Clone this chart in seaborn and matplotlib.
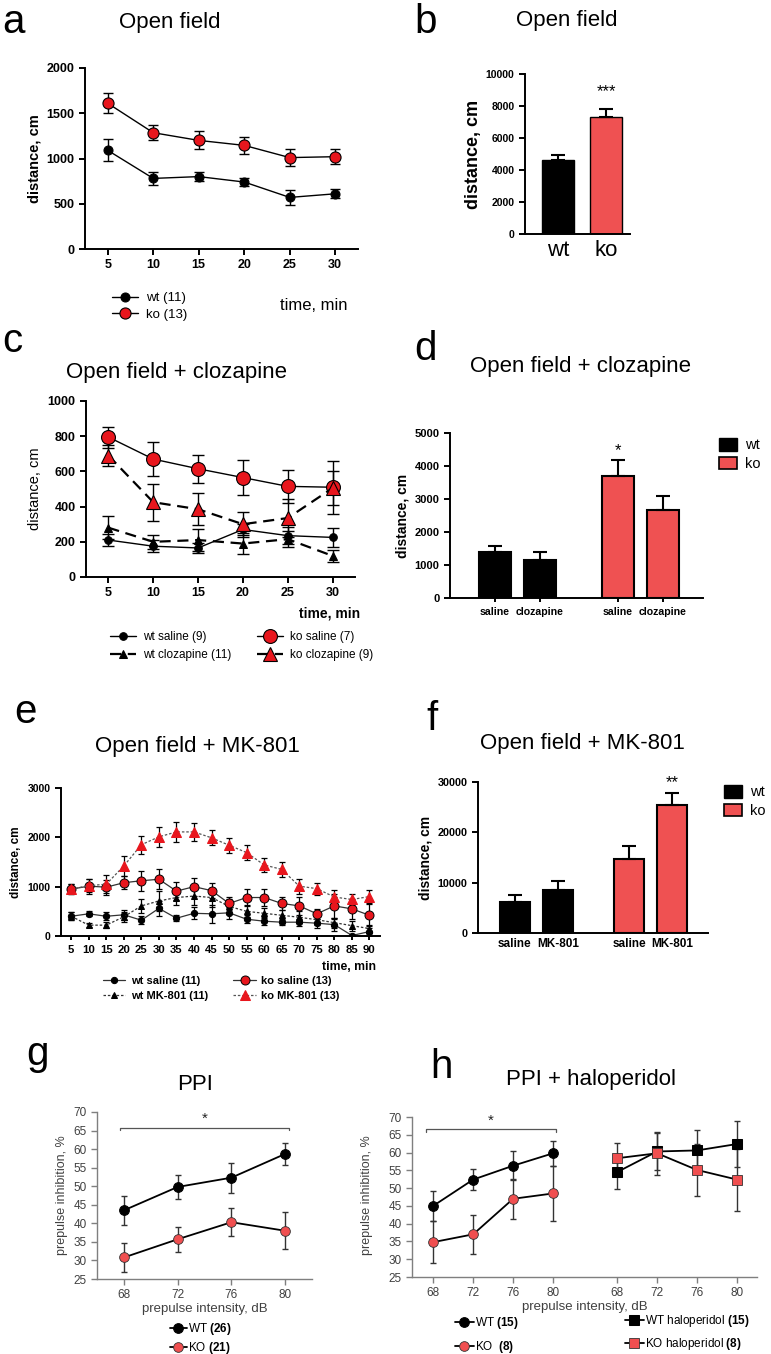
import numpy as np
import matplotlib
matplotlib.use('Agg')
import matplotlib.pyplot as plt
from matplotlib.patches import Patch
import seaborn as sns

# ---- data ----
# a: open field, distance per 5 min bin
a_time = [5, 10, 15, 20, 25, 30]
a_wt = [1090, 780, 800, 740, 570, 610]
a_wt_err = [120, 70, 50, 45, 80, 50]
a_ko = [1610, 1285, 1200, 1145, 1010, 1020]
a_ko_err = [110, 85, 100, 95, 95, 80]

# b: open field total
b_groups = ['wt', 'ko']
b_mean = [4650, 7300]
b_err = [300, 500]

# c: open field + clozapine
c_time = [5, 10, 15, 20, 25, 30]
c_wt_sal = [210, 175, 165, 270, 235, 225]
c_wt_sal_err = [35, 35, 30, 30, 50, 55]
c_wt_clz = [280, 200, 210, 190, 215, 120]
c_wt_clz_err = [65, 40, 65, 60, 45, 35]
c_ko_sal = [795, 670, 615, 565, 515, 510]
c_ko_sal_err = [60, 95, 80, 100, 95, 150]
c_ko_clz = [690, 425, 385, 300, 335, 505]
c_ko_clz_err = [60, 105, 90, 70, 110, 95]

# d: clozapine totals
d_treat = ['saline', 'clozapine', 'saline', 'clozapine']
d_geno = ['wt', 'wt', 'ko', 'ko']
d_mean = [1400, 1150, 3700, 2680]
d_err = [170, 240, 480, 420]

# e: open field + MK-801
e_time = [5, 10, 15, 20, 25, 30, 35, 40, 45, 50, 55, 60, 65, 70, 75, 80, 85, 90]
e_wt_sal = [400, 450, 400, 430, 320, 560, 360, 460, 450, 470, 340, 300, 280, 280, 260, 230, 10, 90]
e_wt_sal_err = [80, 50, 80, 100, 80, 150, 60, 120, 180, 120, 80, 80, 60, 70, 90, 120, 40, 80]
e_wt_mk = [400, 220, 220, 390, 610, 710, 780, 810, 780, 600, 500, 460, 420, 380, 330, 270, 210, 150]
e_wt_mk_err = [80, 40, 60, 100, 150, 200, 150, 180, 200, 150, 120, 100, 100, 120, 100, 100, 100, 80]
e_ko_sal = [950, 1010, 990, 1080, 1120, 1150, 910, 1000, 920, 660, 780, 780, 660, 610, 450, 610, 550, 420]
e_ko_sal_err = [100, 150, 150, 130, 200, 200, 180, 180, 150, 130, 180, 180, 130, 180, 100, 250, 200, 220]
e_ko_mk = [950, 1020, 1050, 1420, 1850, 2010, 2110, 2110, 1990, 1840, 1690, 1440, 1350, 1010, 960, 790, 740, 800]
e_ko_mk_err = [100, 130, 180, 200, 180, 200, 200, 180, 150, 150, 150, 150, 160, 150, 120, 140, 120, 130]

# f: MK-801 totals
f_treat = ['saline', 'MK-801', 'saline', 'MK-801']
f_geno = ['wt', 'wt', 'ko', 'ko']
f_mean = [6100, 8500, 14700, 25500]
f_err = [1400, 1900, 2500, 2300]

# g: PPI
g_db = [68, 72, 76, 80]
g_wt = [43.5, 49.8, 52.3, 58.7]
g_wt_err = [4.0, 3.2, 4.0, 3.0]
g_ko = [30.8, 35.7, 40.3, 38.0]
g_ko_err = [4.0, 3.3, 3.8, 5.0]

# h: PPI + haloperidol
h_db = [68, 72, 76, 80]
h_wt = [45.0, 52.4, 56.3, 59.8]
h_wt_err = [4.2, 3.0, 4.0, 3.5]
h_ko = [34.8, 37.0, 47.0, 48.5]
h_ko_err = [6.0, 5.5, 5.7, 7.8]
h_wt_hal = [54.5, 60.3, 60.6, 62.4]
h_wt_hal_err = [4.7, 5.3, 5.8, 6.6]
h_ko_hal = [58.4, 59.8, 55.1, 52.4]
h_ko_hal_err = [4.3, 6.0, 7.2, 8.7]

# ---- style ----
sns.set_style('ticks')
plt.rcParams['font.family'] = ['Liberation Sans', 'DejaVu Sans']
plt.rcParams['mathtext.fontset'] = 'custom'
plt.rcParams['mathtext.bf'] = 'Liberation Sans:bold'
plt.rcParams['mathtext.rm'] = 'Liberation Sans'
plt.rcParams['axes.linewidth'] = 1.4
plt.rcParams['xtick.major.width'] = 1.4
plt.rcParams['ytick.major.width'] = 1.4
for k in ['text.color', 'axes.labelcolor', 'axes.edgecolor', 'xtick.color', 'ytick.color']:
    plt.rcParams[k] = 'black'

RED = '#e8161d'
BAR_RED = '#ef5152'
PPI_RED = '#f04f50'
GREY = '#404040'

W, H = 771, 1354
fig = plt.figure(figsize=(W / 100, H / 100), dpi=100)


def add_ax(l, t, r, b):
    return fig.add_axes([l / W, 1 - b / H, (r - l) / W, (b - t) / H])


def ftext(x, y, s, **kw):
    fig.text(x / W, 1 - y / H, s, **kw)


def prism(ax, fs=9):
    sns.despine(ax=ax)
    ax.tick_params(direction='out', length=4, labelsize=fs)
    for lab in ax.get_xticklabels() + ax.get_yticklabels():
        lab.set_fontweight('bold')


def err(ax, x, y, e, lw=1.0, cap=3.5, color='black', upper=False):
    yerr = [np.zeros(len(e)), e] if upper else e
    ax.errorbar(x, y, yerr=yerr, fmt='none', ecolor=color, elinewidth=lw,
                capsize=cap, capthick=lw, zorder=1)


def leg(ax, x, y, ncol=1, fs=9, **kw):
    h, l = ax.get_legend_handles_labels()
    ax.legend(h, l, loc='upper left', bbox_to_anchor=(x / W, 1 - y / H),
              bbox_transform=fig.transFigure, frameon=False, ncol=ncol,
              fontsize=fs, borderpad=0, borderaxespad=0, **kw)


def bar_legend(ax, x, y):
    ax.legend(handles=[Patch(facecolor='black', edgecolor='black', label='wt'),
                       Patch(facecolor=BAR_RED, edgecolor='black', linewidth=1.2, label='ko')],
              loc='upper left', bbox_to_anchor=(x / W, 1 - y / H),
              bbox_transform=fig.transFigure, frameon=False, fontsize=10.5,
              handlelength=1.25, handleheight=0.95, handletextpad=0.55, labelspacing=0.3,
              borderpad=0, borderaxespad=0)


# panel letters and titles
for s, x, y in [('a', 2, 33), ('b', 414, 33), ('c', 2, 352), ('d', 414, 360),
                ('e', 14, 723), ('f', 426, 730), ('g', 26, 1065), ('h', 430, 1078)]:
    ftext(x, y, s, fontsize=29, va='baseline')
for s, x, y in [('Open field', 170, 28), ('Open field', 567, 26),
                ('Open field + clozapine', 177, 378), ('Open field + clozapine', 580, 372),
                ('Open field + MK-801', 197, 752), ('Open field + MK-801', 582, 749),
                ('PPI', 195, 1090), ('PPI + haloperidol', 591, 1085)]:
    ftext(x, y, s, fontsize=16, ha='center', va='baseline')

# ---------- a ----------
ax = add_ax(85, 68, 358, 249)
err(ax, a_time, a_wt, a_wt_err)
err(ax, a_time, a_ko, a_ko_err)
sns.lineplot(x=a_time, y=a_wt, ax=ax, color='black', lw=1, marker='o', ms=6.5,
             markerfacecolor='black', markeredgecolor='black', label='wt (11)')
sns.lineplot(x=a_time, y=a_ko, ax=ax, color='black', lw=1, marker='o', ms=8,
             markerfacecolor=RED, markeredgecolor='black', markeredgewidth=0.8, label='ko (13)')
ax.set_xlim(2.5, 32.5)
ax.set_ylim(0, 2000)
ax.set_xticks(a_time)
ax.set_yticks([0, 500, 1000, 1500, 2000])
ax.set_ylabel('distance, cm', fontsize=10.5, fontweight='bold')
prism(ax, 9)
leg(ax, 112, 292, fs=9.5, handlelength=2.0, handletextpad=0.6, labelspacing=0.35)
ftext(280, 310, 'time, min', fontsize=12, va='baseline')

# ---------- b ----------
ax = add_ax(525, 74, 630, 234)
sns.barplot(x=b_groups, y=b_mean, hue=b_groups, palette=['black', BAR_RED], ax=ax,
            legend=False, width=0.65, edgecolor='black', linewidth=1.0, saturation=1)
err(ax, [0, 1], b_mean, b_err, lw=1.5, cap=5, upper=True)
ax.text(1, 8400, '***', ha='center', va='bottom', fontsize=12)
ax.set_xlim(-0.69, 1.5)
ax.set_ylim(0, 10000)
ax.set_yticks([0, 2000, 4000, 6000, 8000, 10000])
ax.set_ylabel('distance, cm', fontsize=13, fontweight='bold', labelpad=3)
prism(ax, 7.5)
ax.tick_params(axis='x', length=0, labelsize=16, pad=4)
for lab in ax.get_xticklabels():
    lab.set_fontweight('normal')

# ---------- c ----------
ax = add_ax(86, 401, 355, 577)
for y, e in [(c_wt_sal, c_wt_sal_err), (c_wt_clz, c_wt_clz_err),
             (c_ko_sal, c_ko_sal_err), (c_ko_clz, c_ko_clz_err)]:
    err(ax, c_time, y, e, lw=1.0, cap=4)
sns.lineplot(x=c_time, y=c_wt_sal, ax=ax, color='black', lw=1, marker='o', ms=5.5,
             markerfacecolor='black', markeredgecolor='black', label='wt saline (9)')
sns.lineplot(x=c_time, y=c_wt_clz, ax=ax, color='black', lw=1.6, linestyle=(0, (5, 3)),
             marker='^', ms=5.5, markerfacecolor='black', markeredgecolor='black',
             label='wt clozapine (11)')
sns.lineplot(x=c_time, y=c_ko_sal, ax=ax, color='black', lw=1, marker='o', ms=10,
             markerfacecolor=RED, markeredgecolor='black', markeredgewidth=0.8,
             label='ko saline (7)')
sns.lineplot(x=c_time, y=c_ko_clz, ax=ax, color='black', lw=1.6, linestyle=(0, (5, 3)),
             marker='^', ms=10, markerfacecolor=RED, markeredgecolor='black',
             markeredgewidth=0.8, label='ko clozapine (9)')
ax.set_xlim(2.5, 32.5)
ax.set_ylim(0, 1000)
ax.set_xticks(c_time)
ax.set_yticks([0, 200, 400, 600, 800, 1000])
ax.set_ylabel('distance, cm', fontsize=10.5)
prism(ax, 9)
leg(ax, 110, 631, ncol=2, fs=8.5, handlelength=2.2, handletextpad=0.6,
    labelspacing=0.5, columnspacing=2.2)
ftext(360, 617, 'time, min', fontsize=10, fontweight='bold', ha='right', va='baseline')

# ---------- d ----------
d_pos = [0, 1, 2.73, 3.73]
ax = add_ax(450, 433, 703, 598)
sns.barplot(x=d_pos, y=d_mean, hue=d_geno, palette={'wt': 'black', 'ko': BAR_RED},
            native_scale=True, dodge=False, width=0.71, edgecolor='black',
            linewidth=1.5, legend=False, saturation=1, ax=ax)
err(ax, d_pos, d_mean, d_err, lw=1.5, cap=5, upper=True)
ax.text(d_pos[2], 4250, '*', ha='center', va='bottom', fontsize=12)
ax.set_xlim(-1.0, 4.62)
ax.set_ylim(0, 5000)
ax.set_yticks([0, 1000, 2000, 3000, 4000, 5000])
ax.set_xticks(d_pos)
ax.set_xticklabels(d_treat)
ax.set_ylabel('distance, cm', fontsize=10, fontweight='bold')
prism(ax, 8)
ax.tick_params(axis='x', labelsize=7.6, length=3)
bar_legend(ax, 719, 438)

# ---------- e ----------
ax = add_ax(61, 788, 380, 936)
for y, e in [(e_wt_sal, e_wt_sal_err), (e_wt_mk, e_wt_mk_err),
             (e_ko_sal, e_ko_sal_err), (e_ko_mk, e_ko_mk_err)]:
    err(ax, e_time, y, e, lw=0.9, cap=2.5)
sns.lineplot(x=e_time, y=e_wt_sal, ax=ax, color='#333333', lw=0.9, marker='o', ms=4.5,
             markerfacecolor='black', markeredgecolor='black', label='wt saline (11)')
sns.lineplot(x=e_time, y=e_wt_mk, ax=ax, color='#333333', lw=0.9, linestyle=(0, (2, 1.5)),
             marker='^', ms=4.5, markerfacecolor='black', markeredgecolor='black',
             label='wt MK-801 (11)')
sns.lineplot(x=e_time, y=e_ko_sal, ax=ax, color='#333333', lw=0.9, marker='o', ms=6.5,
             markerfacecolor=RED, markeredgecolor='black', markeredgewidth=0.7,
             label='ko saline (13)')
sns.lineplot(x=e_time, y=e_ko_mk, ax=ax, color='#555555', lw=0.9, linestyle=(0, (2, 1.5)),
             marker='^', ms=6.5, markerfacecolor=RED, markeredgecolor=RED,
             label='ko MK-801 (13)')
ax.set_xlim(2.1, 93)
ax.set_ylim(0, 3000)
ax.set_xticks(e_time)
ax.set_yticks([0, 1000, 2000, 3000])
ax.set_ylabel('distance, cm', fontsize=8.5, fontweight='bold')
prism(ax, 7.5)
ax.tick_params(axis='x', labelsize=8.2, length=3)
leg(ax, 103, 976, ncol=2, fs=8, prop={'weight': 'bold', 'size': 8},
    handlelength=2.0, handletextpad=0.5, labelspacing=0.45, columnspacing=2.3)
ftext(376, 970, 'time, min', fontsize=8.8, fontweight='bold', ha='right', va='baseline')

# ---------- f ----------
f_pos = [0, 1, 2.67, 3.67]
ax = add_ax(478, 782, 708, 933)
sns.barplot(x=f_pos, y=f_mean, hue=f_geno, palette={'wt': 'black', 'ko': BAR_RED},
            native_scale=True, dodge=False, width=0.70, edgecolor='black',
            linewidth=1.5, legend=False, saturation=1, ax=ax)
err(ax, f_pos, f_mean, f_err, lw=1.5, cap=5, upper=True)
ax.text(f_pos[3], 28300, '**', ha='center', va='bottom', fontsize=12, clip_on=False)
ax.set_xlim(-0.86, 4.5)
ax.set_ylim(0, 30000)
ax.set_yticks([0, 10000, 20000, 30000])
ax.set_xticks(f_pos)
ax.set_xticklabels(f_treat)
ax.set_ylabel('distance, cm', fontsize=10, fontweight='bold')
prism(ax, 7.8)
ax.tick_params(axis='x', labelsize=8.5, length=0)
bar_legend(ax, 724, 785)


# ---------- g / h (Excel style) ----------
def excel(ax):
    sns.despine(ax=ax)
    for sp in ['left', 'bottom']:
        ax.spines[sp].set_color('#7f7f7f')
        ax.spines[sp].set_linewidth(1.0)
    ax.tick_params(direction='out', length=4, width=1.0, color='#7f7f7f',
                   labelcolor=GREY, labelsize=8.5)
    ax.set_ylim(25, 70)
    ax.set_yticks(range(25, 71, 5))


def bracket(ax, x0, x1, y):
    ax.plot([x0, x0, x1, x1], [y - 0.6, y, y, y - 0.6], color='#555555', lw=0.9)
    ax.text((x0 + x1) / 2, y + 0.4, '*', ha='center', va='bottom', fontsize=11, color='#222222')


g_pos = np.arange(len(g_db))
ax = add_ax(97, 1112, 312, 1279)
err(ax, g_pos, g_wt, g_wt_err, lw=1.0, cap=2.5, color='#333333')
err(ax, g_pos, g_ko, g_ko_err, lw=1.0, cap=2.5, color='#333333')
sns.lineplot(x=g_pos, y=g_wt, ax=ax, color='black', lw=1.3, marker='o', ms=7,
             markerfacecolor='black', markeredgecolor='black', label=r'WT $\mathbf{(26)}$')
sns.lineplot(x=g_pos, y=g_ko, ax=ax, color='black', lw=1.3, marker='o', ms=7,
             markerfacecolor=PPI_RED, markeredgecolor='#333333', markeredgewidth=0.6,
             label=r'KO $\mathbf{(21)}$')
excel(ax)
ax.set_xlim(-0.5, 3.5)
ax.set_xticks(g_pos)
ax.set_xticklabels(g_db)
ax.set_ylabel('prepulse inhibition, %', fontsize=9, color=GREY)
ax.set_xlabel('prepulse intensity, dB', fontsize=9.5, color=GREY, labelpad=1)
bracket(ax, -0.07, 3.07, 65.8)
leg(ax, 170, 1321, fs=8.5, handlelength=1.4, handletextpad=0.1, labelspacing=0.25)

h_pos = np.arange(len(h_db))
h_pos_hal = h_pos + 4.6
ax = add_ax(412, 1117, 757, 1277)
for x, y, e in [(h_pos, h_wt, h_wt_err), (h_pos, h_ko, h_ko_err),
                (h_pos_hal, h_wt_hal, h_wt_hal_err), (h_pos_hal, h_ko_hal, h_ko_hal_err)]:
    err(ax, x, y, e, lw=1.0, cap=2.5, color='#333333')
sns.lineplot(x=h_pos, y=h_wt, ax=ax, color='black', lw=1.3, marker='o', ms=7,
             markerfacecolor='black', markeredgecolor='black', label=r'WT $\mathbf{(15)}$')
sns.lineplot(x=h_pos, y=h_ko, ax=ax, color='black', lw=1.3, marker='o', ms=7,
             markerfacecolor=PPI_RED, markeredgecolor='#333333', markeredgewidth=0.6,
             label=r'KO  $\mathbf{(8)}$')
sns.lineplot(x=h_pos_hal, y=h_wt_hal, ax=ax, color='black', lw=1.3, marker='s', ms=7,
             markerfacecolor='black', markeredgecolor='black',
             label=r'WT haloperidol $\mathbf{(15)}$')
sns.lineplot(x=h_pos_hal, y=h_ko_hal, ax=ax, color='black', lw=1.3, marker='s', ms=7,
             markerfacecolor=PPI_RED, markeredgecolor='#333333', markeredgewidth=0.6,
             label=r'KO haloperidol $\mathbf{(8)}$')
excel(ax)
ax.set_xlim(-0.53, 8.1)
ax.set_xticks(np.concatenate([h_pos, h_pos_hal]))
ax.set_xticklabels(h_db + h_db)
ax.set_xlabel('prepulse intensity, dB', fontsize=9.5, color=GREY, labelpad=1)
fig.text(367 / W, 1 - 1195 / H, 'prepulse inhibition, %', rotation=90, fontsize=9,
         color=GREY, ha='center', va='center')
bracket(ax, -0.18, 3.08, 66.5)
hh, ll = ax.get_legend_handles_labels()
ax.legend(hh[:2], ll[:2], loc='upper left', bbox_to_anchor=(455 / W, 1 - 1315 / H),
          bbox_transform=fig.transFigure, frameon=False, fontsize=8.5, handlelength=1.6,
          handletextpad=0.1, labelspacing=0.7, borderpad=0, borderaxespad=0)
lg2 = matplotlib.legend.Legend(ax, hh[2:], ll[2:], loc='upper left',
                               bbox_to_anchor=(625 / W, 1 - 1313 / H),
                               bbox_transform=fig.transFigure, frameon=False, fontsize=8.5,
                               handlelength=1.6, handletextpad=0.1, labelspacing=0.6,
                               borderpad=0, borderaxespad=0)
ax.add_artist(lg2)

fig.savefig('out.png', dpi=100)
